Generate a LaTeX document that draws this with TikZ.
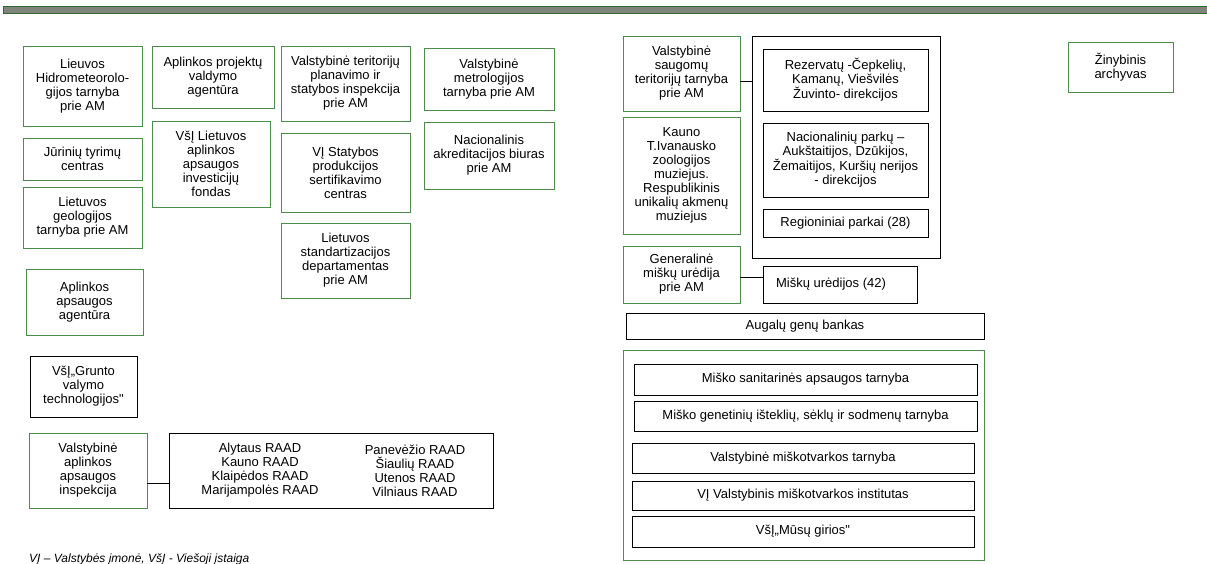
\documentclass[tikz,border=0pt]{standalone}
\usepackage{fontspec}
\setmainfont{Liberation Sans}[Ligatures=TeXOff]
\usepackage{tikz}
\definecolor{boxgreen}{RGB}{76,140,76}
\definecolor{bargreen}{RGB}{50,105,50}
\definecolor{barfill}{RGB}{128,133,124}

\begin{document}
\begin{tikzpicture}[x=1pt,y=-1pt,
    every node/.style={font=\fontsize{13}{14}\selectfont,align=center,inner sep=0pt},
    boxsize/.style 2 args={minimum width=#1pt,minimum height=#2pt},
    greenbox/.style={draw=boxgreen,line width=0.9pt},
    blackbox/.style={draw=black,line width=0.9pt},
    link/.style={draw=black,line width=0.9pt}]
    \useasboundingbox (0,0) rectangle (1207,563);
    \fill[barfill,draw=bargreen,line width=1pt] (3,6) rectangle (1210,13);

    % left block
    \node[greenbox,boxsize={119}{80}] (hidro) at (82.5,86) {Lieuvos\\Hidrometeorolo-\\gijos tarnyba\\prie AM};
    \node[greenbox,boxsize={119}{42}] (jurin) at (82.5,159) {Jūrinių tyrimų\\centras};
    \node[greenbox,boxsize={119}{61}] (geolog) at (82.5,217.5) {Lietuvos\\geologijos\\tarnyba prie AM};
    \node[greenbox,boxsize={117}{66}] (aaa) at (84.5,302) {Aplinkos\\apsaugos\\agentūra};
    \node[blackbox,boxsize={107}{61}] (grunto) at (83.5,386.5) {VšĮ„Grunto\\valymo\\technologijos"};
    \node[greenbox,boxsize={118}{75}] (vaai) at (88,470.5) {Valstybinė\\aplinkos\\apsaugos\\inspekcija};
    \node[blackbox,boxsize={324}{75}] (raad) at (331,470.5) {};
    \node (raadL) at (260,470.5) {Alytaus RAAD\\Kauno RAAD\\Klaipėdos RAAD\\Marijampolės RAAD};
    \node (raadR) at (415,470.5) {Panevėžio RAAD\\Šiaulių RAAD\\Utenos RAAD\\Vilniaus RAAD};

    \node[greenbox,boxsize={122}{62}] (projekt) at (213,77) {Aplinkos projektų\\valdymo\\agentūra};
    \node[greenbox,boxsize={118}{86}] (fondas) at (211,164) {VšĮ Lietuvos\\aplinkos\\apsaugos\\investicijų\\fondas};
    \node[greenbox,boxsize={129}{75}] (teritor) at (345.5,83.5) {Valstybinė teritorijų\\planavimo ir\\statybos inspekcija\\prie AM};
    \node[greenbox,boxsize={129}{79}] (sertif) at (345.5,172.5) {VĮ Statybos\\produkcijos\\sertifikavimo\\centras};
    \node[greenbox,boxsize={129}{75}] (standart) at (345.5,260.5) {Lietuvos\\standartizacijos\\departamentas\\prie AM};
    \node[greenbox,boxsize={130}{62}] (metrol) at (489,79) {Valstybinė\\metrologijos\\tarnyba prie AM};
    \node[greenbox,boxsize={130}{67}] (akredit) at (489,155.5) {Nacionalinis\\akreditacijos biuras\\prie AM};

    % right block
    \node[greenbox,boxsize={117}{75}] (saugom) at (681.5,73.5) {Valstybinė\\saugomų\\teritorijų tarnyba\\prie AM};
    \node[greenbox,boxsize={117}{117}] (kauno) at (681.5,175.5) {Kauno\\T.Ivanausko\\zoologijos\\muziejus.\\Respublikinis\\unikalių akmenų\\muziejus};
    \node[greenbox,boxsize={117}{57}] (generalin) at (681.5,274.5) {Generalinė\\miškų urėdija\\prie AM};
    \node[blackbox,boxsize={188}{222}] (direkc) at (846,147) {};
    \node[blackbox,boxsize={165}{62}] (rezerv) at (845.5,80) {Rezervatų -Čepkelių,\\Kamanų, Viešvilės\\Žuvinto- direkcijos};
    \node[blackbox,boxsize={165}{74}] (nacpark) at (845.5,160) {Nacionalinių parkų –\\Aukštaitijos, Dzūkijos,\\Žemaitijos, Kuršių nerijos\\- direkcijos};
    \node[blackbox,boxsize={165}{28}] (regpark) at (845.5,223) {Regioniniai parkai (28)};
    \node[blackbox,boxsize={154}{37}] (uredij) at (840,284.5) {Miškų urėdijos (42)\hspace{18pt}};
    \node[blackbox,boxsize={358}{26}] (augal) at (805,326) {Augalų genų bankas};

    \node[greenbox,boxsize={361}{210}] (miskgrp) at (803.5,455) {};
    \node[blackbox,boxsize={343}{31}] (sanit) at (805.5,379.5) {Miško sanitarinės apsaugos tarnyba};
    \node[blackbox,boxsize={343}{30}] (genet) at (805.5,416) {Miško genetinių išteklių, sėklų ir sodmenų tarnyba};
    \node[blackbox,boxsize={342}{30}] (mtvtarn) at (803,458) {Valstybinė miškotvarkos tarnyba};
    \node[blackbox,boxsize={342}{29}] (mtvinst) at (803,495.5) {VĮ Valstybinis miškotvarkos institutas};
    \node[blackbox,boxsize={342}{31}] (girios) at (803,531.5) {VšĮ„Mūsų girios"};

    \node[greenbox,boxsize={105}{50}] (archyv) at (1120.5,67) {Žinybinis\\archyvas};

    \node[anchor=base west,font=\fontsize{12}{13}\selectfont\itshape] (note) at (29,562) {VĮ – Valstybės įmonė, VšĮ - Viešoji įstaiga};

    \path[link]
    ([yshift=-12.5pt]vaai.east) -- ([yshift=-12.5pt]vaai.east -| raad.west)
    ([yshift=-7.5pt]saugom.east) -- ([yshift=-7.5pt]saugom.east -| direkc.west)
    ([yshift=-2.5pt]generalin.east) -- ([yshift=-2.5pt]generalin.east -| uredij.west)
    ;
\end{tikzpicture}
\end{document}
